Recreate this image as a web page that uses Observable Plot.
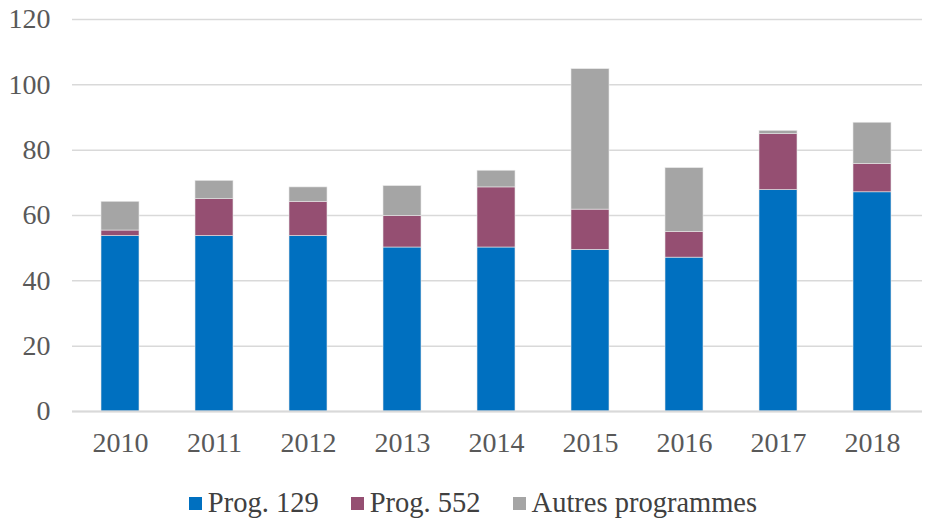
<!DOCTYPE html>
<html>
<head>
<meta charset="utf-8">
<script src="https://cdn.jsdelivr.net/npm/d3@7"></script>
<script src="https://cdn.jsdelivr.net/npm/@observablehq/plot@0.6"></script>
<style>
  body { margin: 0; background: #fff; }
  #chart { width: 928px; height: 470px; }
  #chart svg text { font-family: "Liberation Serif", serif; }
  .legend { display: flex; justify-content: center; align-items: center; font-family: "Liberation Serif", serif; font-size: 28.5px; color: #404040; height: 66px; padding-left: 18px; }
  .legend .item { display: flex; align-items: center; margin: 0 16px; }
  .legend .sw { width: 13px; height: 13px; margin-right: 6px; display: inline-block; }
</style>
</head>
<body>
<div id="chart"></div>
<script>
const years = ["2010","2011","2012","2013","2014","2015","2016","2017","2018"];
const series = ["Prog. 129", "Prog. 552", "Autres programmes"];
const colors = ["#0070C0", "#954F72", "#A5A5A5"];
const prog129 = [53.7, 53.7, 53.7, 50.2, 50.2, 49.5, 47.1, 67.8, 67.1];
const prog552 = [1.7, 11.3, 10.5, 9.7, 18.4, 12.3, 7.9, 17.1, 8.7];
const autres  = [8.8, 5.6, 4.4, 9.1, 5.1, 43.0, 19.5, 1.0, 12.6];
const yTicks = [0, 20, 40, 60, 80, 100, 120];

const valuesBySeries = [prog129, prog552, autres];
const data = [];
series.forEach((s, si) => years.forEach((y, i) => data.push({year: y, series: s, value: valuesBySeries[si][i]})));

const plot = Plot.plot({
  width: 928,
  height: 470,
  marginLeft: 72,
  marginRight: 6,
  marginTop: 19,
  marginBottom: 59,
  style: { fontFamily: "Liberation Serif, serif", fontSize: "28px", color: "#595959", background: "#fff" },
  x: { domain: years, range: [72, 919], paddingInner: 0.6, paddingOuter: 0.3, label: null },
  y: { domain: [0, 120], ticks: yTicks, label: null },
  color: { domain: series, range: colors },
  marks: [
    Plot.ruleY(yTicks, { stroke: "#d9d9d9", strokeWidth: 1.5 }),
    Plot.barY(data, { x: "year", y: "value", fill: "series", order: series, stroke: "#e8e8e8", strokeWidth: 0.6 }),
    Plot.ruleY([0], { stroke: "#d9d9d9", strokeWidth: 2 }),
    Plot.axisY({ ticks: yTicks, tickSize: 0, tickPadding: 22, label: null, fontSize: 28 }),
    Plot.axisX({ tickSize: 0, tickPadding: 21, label: null, fontSize: 28 })
  ]
});
document.getElementById("chart").appendChild(plot);

const legend = document.createElement("div");
legend.className = "legend";
series.forEach((s, i) => {
  const item = document.createElement("span");
  item.className = "item";
  const sw = document.createElement("span");
  sw.className = "sw";
  sw.style.background = colors[i];
  item.appendChild(sw);
  item.appendChild(document.createTextNode(s));
  legend.appendChild(item);
});
document.body.appendChild(legend);
</script>
</body>
</html>
